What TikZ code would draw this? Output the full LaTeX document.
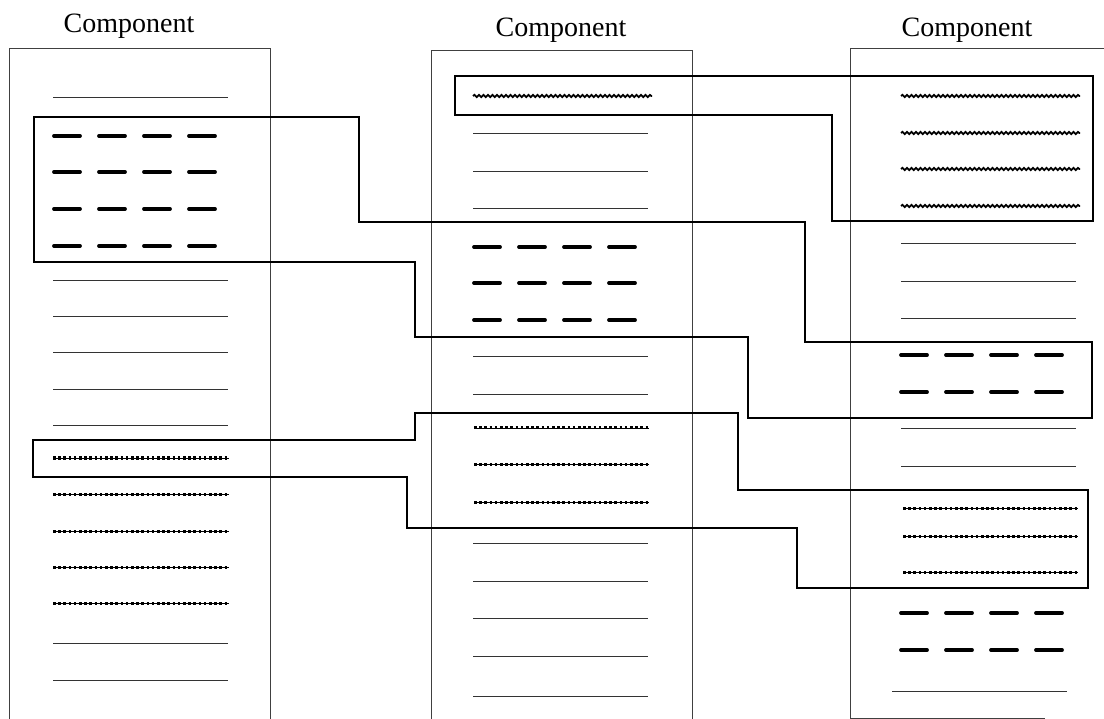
\documentclass[tikz,border=0pt]{standalone}
\usepackage{fontspec}
\setmainfont{Liberation Serif}
\usetikzlibrary{decorations.pathmorphing}
\begin{document}
\begin{tikzpicture}[x=1pt,y=-1pt,
  compbox/.style={draw=black!75,line width=0.9pt},
  groupline/.style={draw=black,line width=2.4pt,line join=miter},
  plainrow/.style={draw=black!80,line width=1pt},
  dashrow/.style={draw=black,line width=3.8pt,line cap=round,dash pattern=on 26pt off 19pt},
  waverow/.style={draw=black,line width=1.8pt,decorate,decoration={snake,segment length=4.5pt,amplitude=1.1pt}},
  starrow/.style={draw=black,line width=3pt,dash pattern=on 2.6pt off 2.6pt},
  starbase/.style={draw=black,line width=0.8pt},
  title/.style={font=\fontsize{28}{30}\selectfont,anchor=base,inner sep=0pt}]
\useasboundingbox (0,0) rectangle (1104,719);
\fill[white] (0,0) rectangle (1104,719);

% column titles
\node[title] (t1) at (129,33) {Component};
\node[title] (t2) at (561,37) {Component};
\node[title] (t3) at (967,37) {Component};

% column frames
\draw[compbox] (9,719) -- (9,48) -- (270,48) -- (270,719);
\draw[compbox] (431,719) -- (431,50) -- (692,50) -- (692,719);
\draw[compbox] (1104,48) -- (850,48) -- (850,718) -- (1045,718);

% left column rows
\foreach \y in {98,281,317,353,390,426,643,680}
  \draw[plainrow] (53,\y) -- (228,\y);
\foreach \y in {136,172,209,246}
  \draw[dashrow] (54,\y) -- (218,\y);
\foreach \y in {458,494,531,567,603}
  {\draw[starbase] (53,\y) -- (229,\y);
   \draw[starrow] (53,\y) -- (229,\y);}

% middle column rows
\draw[waverow] (473,96) -- (652,96);
\foreach \y in {134,172,209,357,395,543,581,618,656,696}
  \draw[plainrow] (473,\y) -- (648,\y);
\foreach \y in {247,283,320}
  \draw[dashrow] (474,\y) -- (637,\y);
\foreach \y in {428,464,502}
  {\draw[starbase] (474,\y) -- (649,\y);
   \draw[starrow] (474,\y) -- (649,\y);}

% right column rows
\foreach \y in {96,133,169,206}
  \draw[waverow] (901,\y) -- (1080,\y);
\foreach \y in {244,282,319,429,466}
  \draw[plainrow] (901,\y) -- (1076,\y);
\draw[plainrow] (892,691) -- (1067,691);
\foreach \y in {355,392,613,650}
  \draw[dashrow] (901,\y) -- (1066,\y);
\foreach \y in {508,536,572}
  {\draw[starbase] (903,\y) -- (1078,\y);
   \draw[starrow] (903,\y) -- (1078,\y);}

% group outlines linking matching rows
\draw[groupline] (34,117) -- (359,117) -- (359,222) -- (805,222) -- (805,342)
  -- (1092,342) -- (1092,418) -- (748,418) -- (748,337) -- (415,337)
  -- (415,262) -- (34,262) -- cycle;
\draw[groupline] (455,76) -- (1093,76) -- (1093,221) -- (832,221) -- (832,115)
  -- (455,115) -- cycle;
\draw[groupline] (33,440) -- (415,440) -- (415,413) -- (738,413) -- (738,490)
  -- (1088,490) -- (1088,588) -- (797,588) -- (797,528) -- (407,528)
  -- (407,477) -- (33,477) -- cycle;
\end{tikzpicture}
\end{document}
